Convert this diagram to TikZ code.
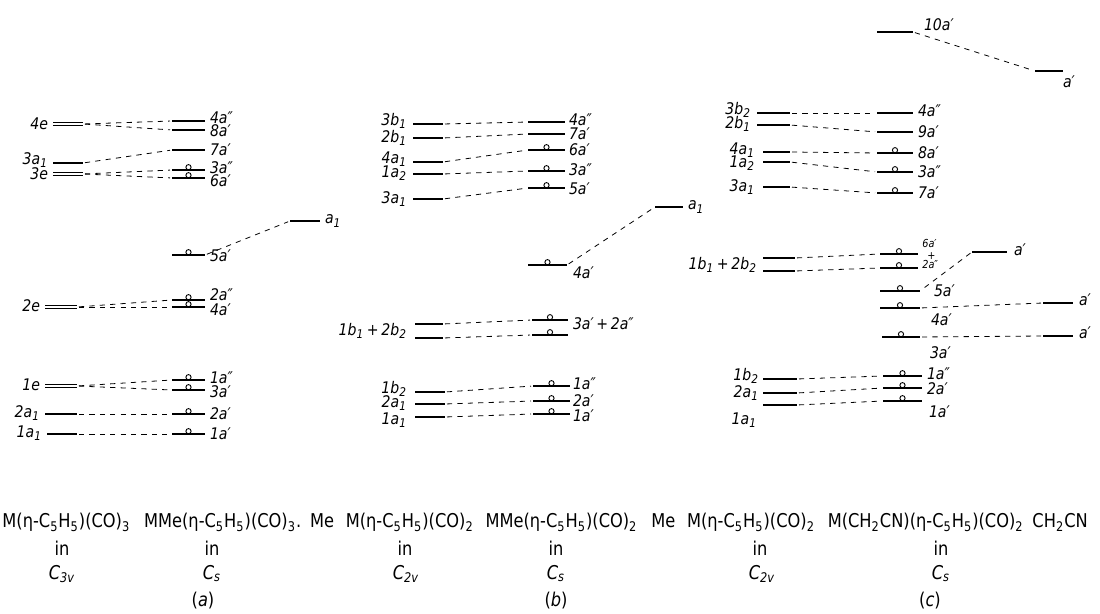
\documentclass[tikz,border=0pt]{standalone}
\usepackage{fontspec}
\setmainfont{DejaVu Sans}[FakeStretch=0.88]
\newfontfamily\capfont{DejaVu Sans}[FakeStretch=0.855]
\usetikzlibrary{calc}
\tikzset{
 lev/.style={line width=0.6pt},
 dlev/.style={double, double distance=0.9pt, line width=0.35pt},
 conn/.style={line width=0.4pt, dash pattern=on 2.6pt off 2.6pt, shorten <=1pt, shorten >=1pt},
 lab/.style={inner sep=0.8pt, font=\fontsize{8}{8}\selectfont\itshape},
 labr/.style={lab, anchor=west},
 labl/.style={lab, anchor=east},
 labs/.style={inner sep=0pt, anchor=west, font=\fontsize{5.5}{5.5}\selectfont\itshape},
 txt/.style={inner sep=0pt, anchor=base west, font=\capfont\fontsize{9.5}{10}\selectfont},
 ctxt/.style={inner sep=0pt, font=\capfont\fontsize{9.5}{10}\selectfont},
 occ/.style={circle, draw, line width=0.45pt, inner sep=0pt, minimum size=2.6pt},
}
\newcommand\Lv[5][lev]{%
 \coordinate (#2-l) at (#3,#5);
 \coordinate (#2-r) at (#4,#5);
 \draw[#1] (#2-l) -- (#2-r);}
\newcommand\Oc[1]{\node[occ] (#1-o) at ($(#1-l)!0.5!(#1-r)+(0,-2.8)$) {};}
\newcommand\sub[1]{\textsubscript{#1}}
\begin{document}
\begin{tikzpicture}[x=0.5pt,y=-0.5pt]
\useasboundingbox (0,0) rectangle (1100,614);

%%%%%%%%%%%%%%%% panel (a)
\Lv[dlev]{a4e}{53}{83}{124}
\Lv{a3a1}{53}{83}{163}
\Lv[dlev]{a3e}{53}{83}{174}
\Lv[dlev]{a2e}{45}{77}{307}
\Lv[dlev]{a1e}{45}{77}{386}
\Lv{a2a1}{45}{77}{414}
\Lv{a1a1}{47}{77}{434}
\node[labl] (t-a4e) at (50,124) {4e};
\node[labl] (t-a3a1) at (50,160) {3a\sub{1}};
\node[labl] (t-a3e) at (50,174) {3e};
\node[labl] (t-a2e) at (42,306) {2e};
\node[labl] (t-a1e) at (42,385) {1e};
\node[labl] (t-a2a1) at (42,413) {2a\sub{1}};
\node[labl] (t-a1a1) at (44,433) {1a\sub{1}};

\Lv{aR4app}{172}{205}{121}
\Lv{aR8ap}{172}{205}{130}
\Lv{aR7ap}{172}{205}{150}
\Lv{aR3app}{172}{205}{170}\Oc{aR3app}
\Lv{aR6ap}{172}{205}{178}\Oc{aR6ap}
\Lv{aR5ap}{172}{205}{255}\Oc{aR5ap}
\Lv{aa1}{290}{320}{221}
\Lv{aR2app}{172}{205}{300}\Oc{aR2app}
\Lv{aR4ap}{172}{205}{307}\Oc{aR4ap}
\Lv{aR1app}{172}{205}{380}\Oc{aR1app}
\Lv{aR3ap}{172}{205}{390}\Oc{aR3ap}
\Lv{aR2ap}{172}{205}{414}\Oc{aR2ap}
\Lv{aR1ap}{172}{205}{434}\Oc{aR1ap}
\node[labr] (t-aR4app) at (208,118) {4a″};
\node[labr] (t-aR8ap) at (208,131) {8a′};
\node[labr] (t-aR7ap) at (208,150) {7a′};
\node[labr] (t-aR3app) at (208,168) {3a″};
\node[labr] (t-aR6ap) at (208,181) {6a′};
\node[labr] (t-aR5ap) at (208,256) {5a′};
\node[labr] (t-aa1) at (323,221) {a\sub{1}};
\node[labr] (t-aR2app) at (208,295) {2a″};
\node[labr] (t-aR4ap) at (208,310) {4a′};
\node[labr] (t-aR1app) at (208,378) {1a″};
\node[labr] (t-aR3ap) at (208,392) {3a′};
\node[labr] (t-aR2ap) at (208,414) {2a′};
\node[labr] (t-aR1ap) at (208,434) {1a′};

\draw[conn] (a4e-r) -- (aR4app-l);
\draw[conn] (a4e-r) -- (aR8ap-l);
\draw[conn] (a3a1-r) -- (aR7ap-l);
\draw[conn] (a3e-r) -- (aR3app-l);
\draw[conn] (a3e-r) -- (aR6ap-l);
\draw[conn] (aR5ap-r) -- (aa1-l);
\draw[conn] (a2e-r) -- (aR2app-l);
\draw[conn] (a2e-r) -- (aR4ap-l);
\draw[conn] (a1e-r) -- (aR1app-l);
\draw[conn] (a1e-r) -- (aR3ap-l);
\draw[conn] (a2a1-r) -- (aR2ap-l);
\draw[conn] (a1a1-r) -- (aR1ap-l);

%%%%%%%%%%%%%%%% panel (b)
\Lv{b3b1}{413}{443}{124}
\Lv{b2b1}{413}{443}{138}
\Lv{b4a1}{413}{443}{162}
\Lv{b1a2}{413}{443}{174}
\Lv{b3a1}{413}{443}{199}
\Lv{bpu}{415}{443}{324}
\Lv{bpl}{415}{443}{338}
\Lv{b1b2}{415}{445}{392}
\Lv{b2a1}{415}{445}{404}
\Lv{b1a1}{415}{445}{417}
\node[labl] (t-b3b1) at (409,121) {3b\sub{1}};
\node[labl] (t-b2b1) at (409,138) {2b\sub{1}};
\node[labl] (t-b4a1) at (409,159) {4a\sub{1}};
\node[labl] (t-b1a2) at (409,173) {1a\sub{2}};
\node[labl] (t-b3a1) at (409,199) {3a\sub{1}};
\node[labl] (t-bp) at (409,331) {1b\sub{1}\,+\,2b\sub{2}};
\node[labl] (t-b1b2) at (409,389) {1b\sub{2}};
\node[labl] (t-b2a1) at (409,403) {2a\sub{1}};
\node[labl] (t-b1a1) at (409,420) {1a\sub{1}};

\Lv{bR4app}{528}{565}{122}
\Lv{bR7ap}{528}{565}{134}
\Lv{bR6ap}{528}{565}{150}\Oc{bR6ap}
\Lv{bR3app}{528}{565}{171}\Oc{bR3app}
\Lv{bR5ap}{528}{565}{188}\Oc{bR5ap}
\Lv{ba1}{655}{683}{207}
\Lv{bR4ap}{528}{567}{265}\Oc{bR4ap}
\Lv{bRu}{532}{568}{320}\Oc{bRu}
\Lv{bRl}{532}{568}{335}\Oc{bRl}
\Lv{bR1app}{533}{570}{386}\Oc{bR1app}
\Lv{bR2ap}{533}{570}{401}\Oc{bR2ap}
\Lv{bR1ap}{533}{570}{414}\Oc{bR1ap}
\node[labr] (t-bR4app) at (567,120) {4a″};
\node[labr] (t-bR7ap) at (567,134) {7a′};
\node[labr] (t-bR6ap) at (567,150) {6a′};
\node[labr] (t-bR3app) at (567,170) {3a″};
\node[labr] (t-bR5ap) at (567,189) {5a′};
\node[labr] (t-ba1) at (686,207) {a\sub{1}};
\node[labr] (t-bR4ap) at (571,273) {4a′};
\node[labr] (t-bR) at (571,324) {3a′\,+\,2a″};
\node[labr] (t-bR1app) at (571,384) {1a″};
\node[labr] (t-bR2ap) at (571,401) {2a′};
\node[labr] (t-bR1ap) at (571,416) {1a′};

\draw[conn] (b3b1-r) -- (bR4app-l);
\draw[conn] (b2b1-r) -- (bR7ap-l);
\draw[conn] (b4a1-r) -- (bR6ap-l);
\draw[conn] (b1a2-r) -- (bR3app-l);
\draw[conn] (b3a1-r) -- (bR5ap-l);
\draw[conn] (bR4ap-r) -- (ba1-l);
\draw[conn] (bpu-r) -- (bRu-l);
\draw[conn] (bpl-r) -- (bRl-l);
\draw[conn] (b1b2-r) -- (bR1app-l);
\draw[conn] (b2a1-r) -- (bR2ap-l);
\draw[conn] (b1a1-r) -- (bR1ap-l);

%%%%%%%%%%%%%%%% panel (c)
\Lv{c3b2}{757}{790}{113}
\Lv{c2b1}{757}{790}{125}
\Lv{c4a1}{763}{790}{152}
\Lv{c1a2}{763}{790}{162}
\Lv{c3a1}{763}{790}{187}
\Lv{cpu}{763}{795}{258}
\Lv{cpl}{763}{795}{271}
\Lv{c1b2}{763}{797}{379}
\Lv{c2a1}{763}{797}{393}
\Lv{c1a1}{763}{797}{405}
\node[labl] (t-c3b2) at (753,110) {3b\sub{2}};
\node[labl] (t-c2b1) at (753,124) {2b\sub{1}};
\node[labl] (t-c4a1) at (757,150) {4a\sub{1}};
\node[labl] (t-c1a2) at (757,163) {1a\sub{2}};
\node[labl] (t-c3a1) at (757,187) {3a\sub{1}};
\node[labl] (t-cp) at (759,265) {1b\sub{1}\,+\,2b\sub{2}};
\node[labl] (t-c1b2) at (761,376) {1b\sub{2}};
\node[labl] (t-c2a1) at (761,393) {2a\sub{1}};
\node[labl] (t-c1a1) at (759,420) {1a\sub{1}};

\Lv{c10ap}{877}{913}{32}
\Lv{cap1}{1035}{1063}{71}
\Lv{cR4app}{877}{913}{113}
\Lv{cR9ap}{877}{913}{132}
\Lv{cR8ap}{877}{913}{153}\Oc{cR8ap}
\Lv{cR3app}{877}{913}{172}\Oc{cR3app}
\Lv{cR7ap}{877}{913}{193}\Oc{cR7ap}
\Lv{cR6ap}{880}{918}{254}\Oc{cR6ap}
\Lv{cR2app}{880}{918}{268}\Oc{cR2app}
\Lv{cap2}{972}{1007}{252}
\Lv{cR5ap}{880}{920}{291}\Oc{cR5ap}
\Lv{cR4ap}{880}{920}{308}\Oc{cR4ap}
\Lv{cap3}{1043}{1073}{303}
\Lv{cR3ap}{882}{920}{337}\Oc{cR3ap}
\Lv{cap4}{1043}{1073}{336}
\Lv{cR1app}{883}{922}{376}\Oc{cR1app}
\Lv{cR2ap}{883}{922}{388}\Oc{cR2ap}
\Lv{cR1ap}{883}{922}{401}\Oc{cR1ap}
\node[labr] (t-c10ap) at (922,25) {10a′};
\node[labr] (t-cap1) at (1061,82) {a′};
\node[labr] (t-cR4app) at (916,111) {4a″};
\node[labr] (t-cR9ap) at (916,132) {9a′};
\node[labr] (t-cR8ap) at (916,153) {8a′};
\node[labr] (t-cR3app) at (916,172) {3a″};
\node[labr] (t-cR7ap) at (916,193) {7a′};
\node[labs] (t-cR6ap) at (922,244) {6a′};
\node[labs] (t-cplus) at (927,256) {+};
\node[labs] (t-cR2app) at (922,265) {2a″};
\node[labr] (t-cap2) at (1012,250) {a′};
\node[labr] (t-cR5ap) at (932,291) {5a′};
\node[labr] (t-cR4ap) at (929,320) {4a′};
\node[labr] (t-cap3) at (1077,300) {a′};
\node[labr] (t-cR3ap) at (928,353) {3a′};
\node[labr] (t-cap4) at (1077,333) {a′};
\node[labr] (t-cR1app) at (925,374) {1a″};
\node[labr] (t-cR2ap) at (925,389) {2a′};
\node[labr] (t-cR1ap) at (927,412) {1a′};

\draw[conn] (c3b2-r) -- (cR4app-l);
\draw[conn] (c2b1-r) -- (cR9ap-l);
\draw[conn] (c4a1-r) -- (cR8ap-l);
\draw[conn] (c1a2-r) -- (cR3app-l);
\draw[conn] (c3a1-r) -- (cR7ap-l);
\draw[conn] (c10ap-r) -- (cap1-l);
\draw[conn] (cpu-r) -- (cR6ap-l);
\draw[conn] (cpl-r) -- (cR2app-l);
\draw[conn] (cap2-l) -- (cR5ap-r);
\draw[conn] (cR4ap-r) -- (cap3-l);
\draw[conn] (cR3ap-r) -- (cap4-l);
\draw[conn] (c1b2-r) -- (cR1app-l);
\draw[conn] (c2a1-r) -- (cR2ap-l);
\draw[conn] (c1a1-r) -- (cR1ap-l);

%%%%%%%%%%%%%%%% bottom captions
\node[txt] (A1) at (2,528) {M(η-C\sub{5}H\sub{5})(CO)\sub{3}};
\node[txt] (A2) at ($(A1.base east)+(13,0)$) {MMe(η-C\sub{5}H\sub{5})(CO)\sub{3}.};
\node[txt] (AMe) at ($(A2.base east)+(8,0)$) {Me};
\node[txt] (B1) at ($(AMe.base east)+(11,0)$) {M(η-C\sub{5}H\sub{5})(CO)\sub{2}};
\node[txt] (B2) at ($(B1.base east)+(11,0)$) {MMe(η-C\sub{5}H\sub{5})(CO)\sub{2}};
\node[txt] (BMe) at ($(B2.base east)+(13,0)$) {Me};
\node[txt] (C1) at ($(BMe.base east)+(11,0)$) {M(η-C\sub{5}H\sub{5})(CO)\sub{2}};
\node[txt] (C2) at ($(C1.base east)+(12,0)$) {M(CH\sub{2}CN)(η-C\sub{5}H\sub{5})(CO)\sub{2}};
\node[txt] (C3) at ($(C2.base east)+(8,0)$) {CH\sub{2}CN};

\node[ctxt] (inA1) at (62,548) {in};
\node[ctxt] (inA2) at (212,548) {in};
\node[ctxt] (inB1) at (405,548) {in};
\node[ctxt] (inB2) at (556,548) {in};
\node[ctxt] (inC1) at (760,548) {in};
\node[ctxt] (inC2) at (941,548) {in};
\node[ctxt] (sA1) at (62,574) {\itshape C\sub{3v}};
\node[ctxt] (sA2) at (212,574) {\itshape C\sub{s}};
\node[ctxt] (sB1) at (406,574) {\itshape C\sub{2v}};
\node[ctxt] (sB2) at (556,574) {\itshape C\sub{s}};
\node[ctxt] (sC1) at (762,574) {\itshape C\sub{2v}};
\node[ctxt] (sC2) at (941,574) {\itshape C\sub{s}};
\node[ctxt] (pa) at (203,601) {(\textit{a})};
\node[ctxt] (pb) at (556,601) {(\textit{b})};
\node[ctxt] (pc) at (930,601) {(\textit{c})};
\end{tikzpicture}
\end{document}
